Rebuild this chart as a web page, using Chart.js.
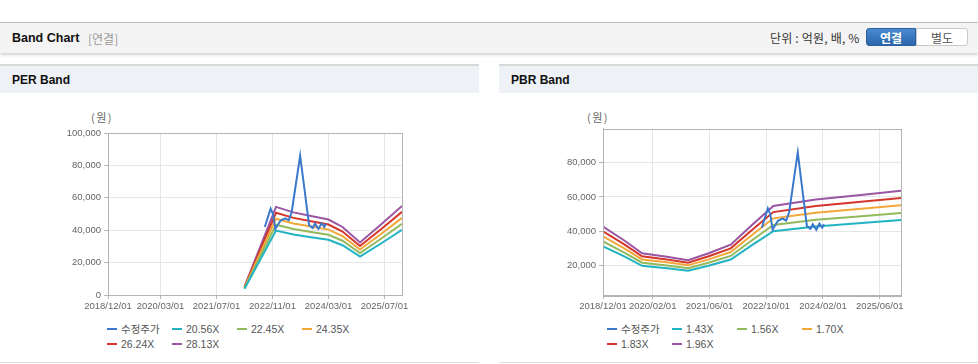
<!DOCTYPE html>
<html>
<head>
<meta charset="utf-8">
<script src="https://cdn.jsdelivr.net/npm/chart.js@4"></script>
<style>
    body { margin: 0; background: #fff; font-family: "Liberation Sans", "Noto Sans CJK KR", sans-serif; }
    #page { position: relative; width: 978px; height: 364px; overflow: hidden; }
    .topbar { position: absolute; left: 0; top: 22px; width: 978px; height: 30px; background: #f4f4f4;
        border-top: 1px solid #bbb; box-shadow: 0 2px 3px rgba(0,0,0,0.18); }
    .topbar .title { position: absolute; left: 12px; top: 8px; font-weight: bold; font-size: 12.5px; color: #111; }
    .topbar .sub { position: absolute; left: 88px; top: 8px; font-size: 12px; color: #999; font-family: "Noto Sans CJK KR", sans-serif; line-height: 15px; }
    .topbar .unit { position: absolute; left: 770px; top: 7px; font-size: 12px; color: #333; font-family: "Noto Sans CJK KR", sans-serif; line-height: 16px; letter-spacing: 0.2px; }
    .btn { position: absolute; top: 5px; height: 18px; width: 50px; font-size: 12px; line-height: 18px; text-align: center;
        font-family: "Noto Sans CJK KR", sans-serif; box-sizing: border-box; }
    .btn.on { left: 866px; background: linear-gradient(#4a8ad0, #2a66aa); color: #fff; font-weight: bold; border: 1px solid #2a60a0; border-radius: 3px 0 0 3px; }
    .btn.off { left: 916px; width: 52px; background: #fff; color: #555; border: 1px solid #c8c8c8; border-radius: 0 3px 3px 0; }
    .panel { position: absolute; top: 64px; height: 298px; border-bottom: 1px solid #ddd; }
    .panel .head { height: 27px; background: #eef1f6; border-top: 2px solid #d8d8d8; }
    .panel .head span { position: absolute; left: 12px; top: 9px; font-weight: bold; font-size: 12px; color: #111; }
    .won { position: absolute; top: 109px; font-size: 11px; color: #666; font-family: "Noto Sans CJK KR", sans-serif; letter-spacing: 1.5px; }
    canvas { position: absolute; top: 100px; }
    .legend { position: absolute; top: 322px; width: 270px; }
    .legend .item { float: left; width: 65px; height: 14.5px; font-size: 10.5px; color: #555; line-height: 14px; white-space: nowrap;
        font-family: "Liberation Sans", "Noto Sans CJK KR", sans-serif; }
    .legend .sw { display: inline-block; width: 10px; height: 2px; vertical-align: middle; margin-right: 4px; position: relative; top: -1px; }
</style>
</head>
<body>
<div id="page">
    <div class="topbar">
        <span class="title">Band Chart</span>
        <span class="sub">[연결]</span>
        <span class="unit">단위 : 억원, 배, %</span>
        <div class="btn on">연결</div>
        <div class="btn off">별도</div>
    </div>
    <div class="panel" style="left:0;width:479px"><div class="head"><span>PER Band</span></div></div>
    <div class="panel" style="left:499px;width:479px"><div class="head"><span>PBR Band</span></div></div>
    <div class="won" style="left:91px">(원)</div>
    <div class="won" style="left:587px">(원)</div>
    <canvas id="perChart" width="479" height="220" style="left:0"></canvas>
    <canvas id="pbrChart" width="478" height="220" style="left:500px"></canvas>
    <div class="legend" id="perLegend" style="left:107px"></div>
    <div class="legend" id="pbrLegend" style="left:607px"></div>
</div>
<script>
// 수정주가 (same for both charts)
const priceDates = ['2022/08/25', '2022/10/15', '2022/11/05', '2022/11/25', '2023/01/10', '2023/02/20', '2023/03/20', '2023/04/15',
    '2023/06/28', '2023/09/15', '2023/10/15', '2023/11/05', '2023/12/05', '2024/01/01', '2024/01/25', '2024/02/10']
const priceValues = [42000, 53300, 50000, 40800, 46000, 47300, 46200, 51000, 86000, 43000, 41300, 44000, 40800, 44300, 42000, 44000]

// PER band
const perLabels = ['20.56X', '22.45X', '24.35X', '26.24X', '28.13X']
const perBandDates = ['2022/03/01', '2022/12/01', '2023/05/01', '2023/10/01', '2024/03/01', '2024/07/01', '2024/12/01', '2025/06/01', '2025/12/01']
const per2056 = [3800, 39750, 37300, 35650, 34050, 30700, 23700, 31800, 40200]
const per2245 = [4150, 43400, 40700, 38950, 37200, 33500, 25850, 34700, 43900]
const per2435 = [4500, 47100, 44150, 42250, 40350, 36350, 28050, 37650, 47600]
const per2624 = [4850, 50750, 47600, 45500, 43500, 39200, 30200, 40600, 51300]
const per2813 = [5200, 54400, 51000, 48800, 46600, 42000, 32400, 43500, 55000]
const perTickLabels = ['2018/12/01', '2020/03/01', '2021/07/01', '2022/11/01', '2024/03/01', '2025/07/01']
const perYTicks = [0, 20000, 40000, 60000, 80000, 100000]

// PBR band
const pbrLabels = ['1.43X', '1.56X', '1.70X', '1.83X', '1.96X']
const pbrBandDates = ['2018/12/01', '2019/06/01', '2019/11/01', '2020/06/01', '2020/12/01', '2021/06/01', '2021/12/01',
    '2022/06/01', '2022/12/01', '2023/12/01', '2024/12/01', '2025/12/01']
const pbr143 = [31100, 25200, 19700, 18250, 16800, 19850, 23350, 31750, 39950, 42700, 44550, 46450]
const pbr156 = [33900, 27450, 21500, 19900, 18300, 21650, 25450, 34600, 43550, 46550, 48550, 50600]
const pbr170 = [36950, 29900, 23400, 21700, 19950, 23600, 27750, 37700, 47450, 50700, 52900, 55150]
const pbr183 = [39800, 32200, 25200, 23350, 21500, 25400, 29900, 40600, 51100, 54650, 57000, 59400]
const pbr196 = [42600, 34500, 27000, 25000, 23000, 27200, 32000, 43500, 54700, 58500, 61000, 63600]
const pbrTickLabels = ['2018/12/01', '2020/02/01', '2021/06/01', '2022/10/01', '2024/02/01', '2025/06/01']
const pbrYTicks = [20000, 40000, 60000, 80000]

const startDate = '2018/12/01'
const endDate = '2025/12/01'
const colours = ['#3a78cc', '#22b3c2', '#92b95c', '#f2a838', '#d4362c', '#9a55a3']

function monthIndex(d) {
    const [y, m, dd] = d.split('/').map(Number)
    return (y - 2018) * 12 + (m - 12) + (dd - 1) / 30
}

function pts(dates, values) {
    return dates.map((d, i) => ({ x: monthIndex(d), y: values[i] }))
}

function buildDatasets(bandDates, bands, labels) {
    let sets = [{ label: '수정주가', data: pts(priceDates, priceValues), borderColor: colours[0] }]
    bands.forEach((b, i) => {
        sets.push({ label: labels[i], data: pts(bandDates, b), borderColor: colours[i + 1] })
    })
    sets.forEach(s => {
        s.borderWidth = 2
        s.pointRadius = 0
        s.fill = false
        s.tension = 0
    })
    return sets
}

const boxPlugin = {
    id: 'box',
    afterDraw(chart) {
        const a = chart.chartArea
        const ctx = chart.ctx
        ctx.save()
        ctx.strokeStyle = '#b4b4b4'
        ctx.lineWidth = 1
        ctx.strokeRect(Math.round(a.left) + 0.5, Math.round(a.top) + 0.5, Math.round(a.right - a.left), Math.round(a.bottom - a.top))
        ctx.restore()
    }
}

function makeChart(id, datasets, tickLabels, yTicks, yMin, yMax, yWidth, padTop) {
    const ctx = document.getElementById(id).getContext('2d')
    const tickFont = { family: '"Liberation Sans", Arial, sans-serif', size: 9.5 }
    return new Chart(ctx, {
        type: 'line',
        data: { datasets: datasets },
        plugins: [boxPlugin],
        options: {
            responsive: false,
            animation: false,
            layout: { padding: { top: padTop, right: 77, left: 0, bottom: 0 } },
            plugins: { legend: { display: false }, tooltip: { enabled: false } },
            scales: {
                x: {
                    type: 'linear',
                    min: monthIndex(startDate),
                    max: monthIndex(endDate),
                    afterBuildTicks: scale => { scale.ticks = tickLabels.map(t => ({ value: monthIndex(t) })) },
                    afterFit: scale => { scale.height = 25 },
                    ticks: {
                        autoSkip: false, maxRotation: 0, color: '#666', font: tickFont, padding: 2,
                        callback: (v) => tickLabels.find(t => Math.abs(monthIndex(t) - v) < 0.01) || ''
                    },
                    grid: { color: '#e6e6e6', tickColor: '#b4b4b4', tickLength: 4 },
                    border: { color: '#b4b4b4' }
                },
                y: {
                    min: yMin,
                    max: yMax,
                    afterBuildTicks: scale => { scale.ticks = yTicks.map(v => ({ value: v })) },
                    afterFit: scale => { scale.width = yWidth },
                    ticks: { color: '#666', font: tickFont, padding: 3, callback: v => v.toLocaleString('en-US') },
                    grid: { color: '#e6e6e6', tickColor: '#b4b4b4', tickLength: 4 },
                    border: { color: '#b4b4b4' }
                }
            }
        }
    })
}

function makeLegend(id, datasets) {
    const el = document.getElementById(id)
    datasets.forEach(ds => {
        const item = document.createElement('div')
        item.className = 'item'
        const sw = document.createElement('span')
        sw.className = 'sw'
        sw.style.background = ds.borderColor
        item.appendChild(sw)
        item.appendChild(document.createTextNode(ds.label))
        el.appendChild(item)
    })
}

const perSets = buildDatasets(perBandDates, [per2056, per2245, per2435, per2624, per2813], perLabels)
const pbrSets = buildDatasets(pbrBandDates, [pbr143, pbr156, pbr170, pbr183, pbr196], pbrLabels)

makeChart('perChart', perSets, perTickLabels, perYTicks, 0, 100000, 108, 33)
makeChart('pbrChart', pbrSets, pbrTickLabels, pbrYTicks, 2600, 100000, 103, 28.5)
makeLegend('perLegend', perSets)
makeLegend('pbrLegend', pbrSets)
</script>
</body>
</html>
